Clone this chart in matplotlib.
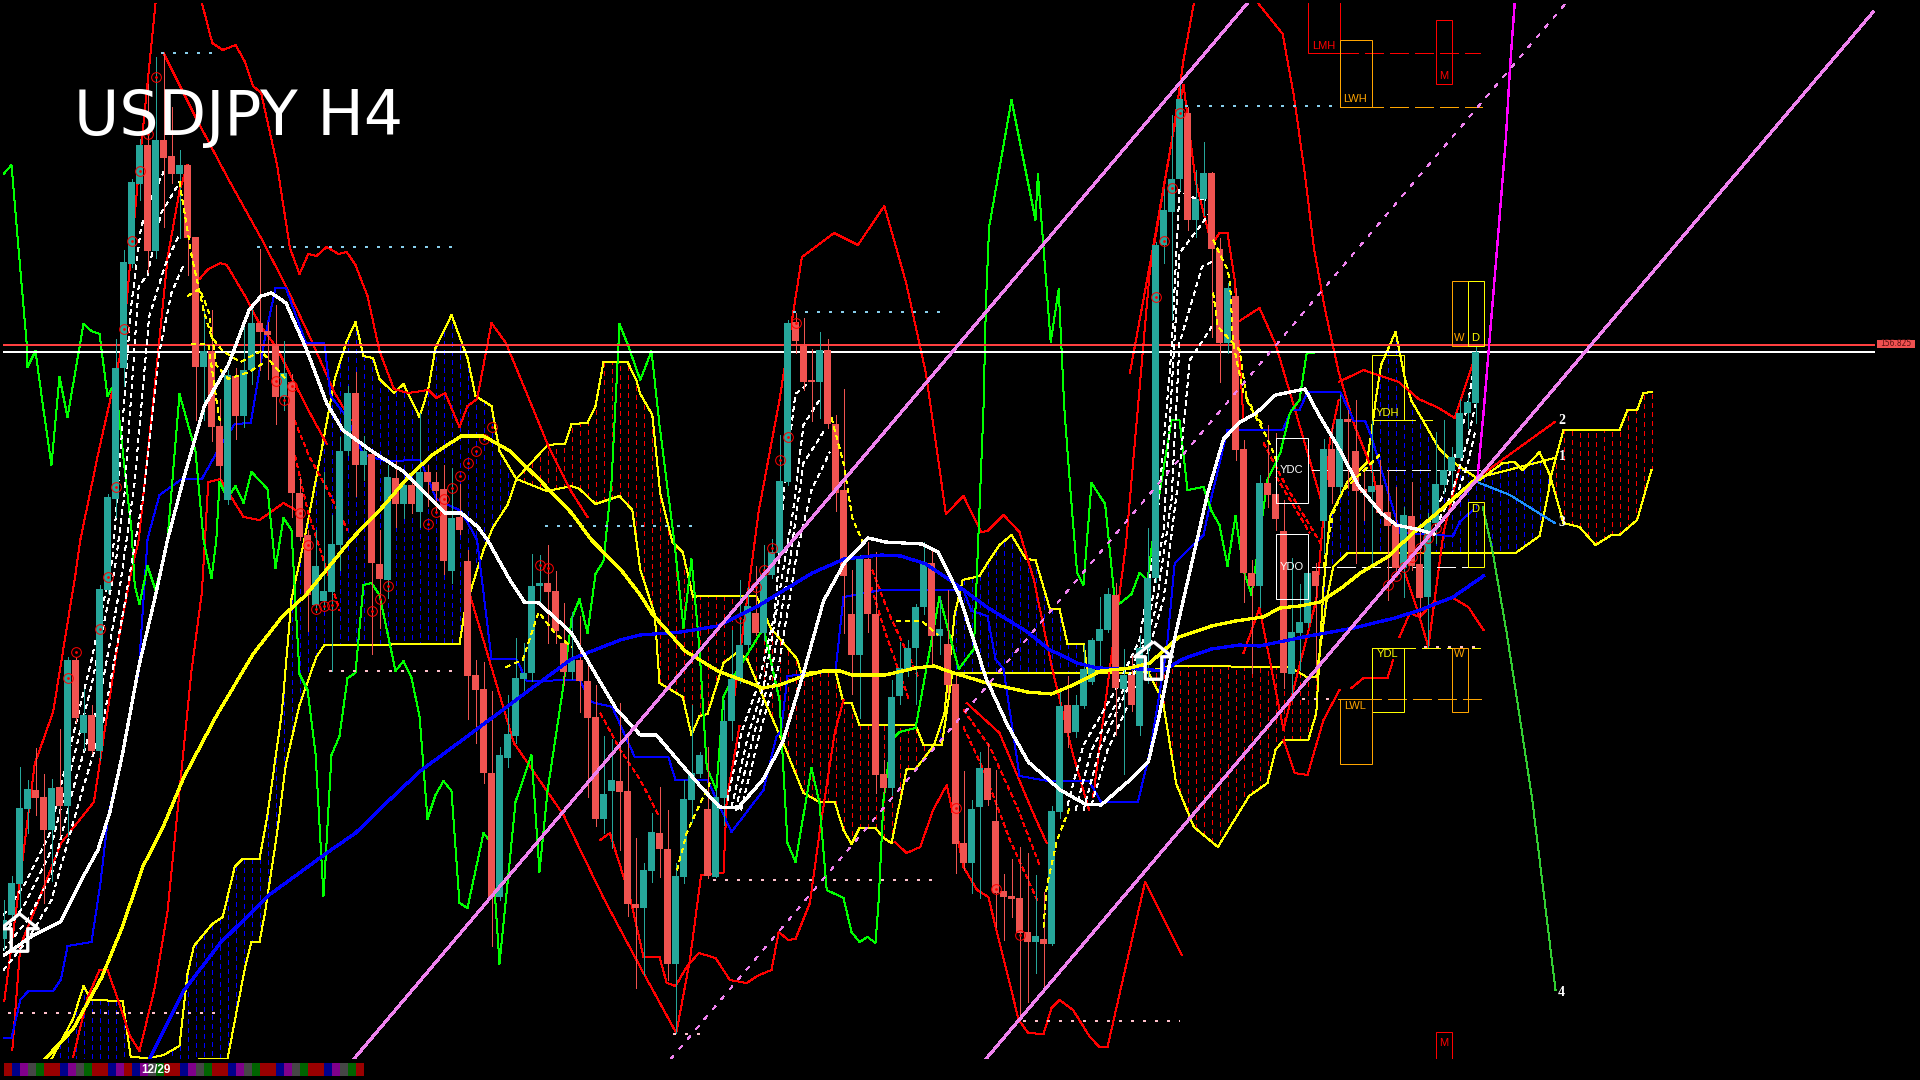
import numpy as np
import matplotlib
matplotlib.use("Agg")
import matplotlib.pyplot as plt
from matplotlib.path import Path
from matplotlib.patches import Rectangle

plt.rcParams["lines.scale_dashes"] = False
plt.rcParams["lines.antialiased"] = False

# every level below is a chart row, bars count from the left edge
candle_dir = ("TTTTRRTRTR" "TRTTTTTTRT" "RRTRRTRRTR" "TTRRRTRRRT" "TTTTRTRRTR"
              "TRTRRRTRRR" "RRTTTTTTRR" "RTRRRTTRRR" "TTRRTTTTRT" "TTTTRTTTTR"
              "RRTRRRRTRR" "RTTTTTRTRR" "RTTRRRRRRT" "RTTRTTTTTR" "TRTTTTTTRT"
              "TRRTRRRTRR" "RTTTRTRTRR" "RTRRRTRRTT" "TTTTT")
body_top = [920, 883, 808, 789, 790, 797, 788, 787, 660, 660,
            715, 715, 589, 497, 368, 262, 182, 145, 145, 140,
            140, 156, 165, 165, 237, 351, 351, 426, 375, 376,
            370, 323, 323, 331, 346, 373, 382, 493, 535, 566,
            591, 544, 451, 393, 393, 451, 454, 564, 477, 478,
            485, 485, 472, 472, 482, 489, 518, 517, 561, 675,
            689, 773, 755, 734, 678, 673, 586, 583, 583, 591,
            643, 660, 660, 681, 717, 794, 780, 781, 791, 904,
            870, 832, 833, 849, 876, 799, 773, 755, 809, 797,
            721, 679, 645, 606, 613, 574, 552, 481, 323, 322,
            346, 380, 350, 350, 424, 490, 614, 558, 559, 614,
            774, 697, 668, 648, 607, 563, 563, 629, 644, 684,
            843, 809, 768, 768, 821, 891, 896, 898, 932, 936,
            939, 811, 706, 705, 705, 669, 640, 629, 594, 595,
            675, 675, 648, 578, 245, 210, 179, 99, 113, 199,
            173, 173, 249, 288, 296, 449, 573, 483, 483, 494,
            531, 632, 622, 573, 571, 449, 449, 419, 419, 451,
            489, 486, 485, 512, 525, 515, 516, 564, 522, 484,
            470, 457, 413, 402, 352]
body_bottom = [939, 915, 884, 809, 798, 830, 830, 806, 806, 718,
               733, 751, 751, 590, 499, 368, 264, 184, 251, 251,
               158, 174, 174, 238, 367, 367, 427, 466, 500, 416,
               416, 370, 332, 335, 397, 397, 493, 537, 595, 605,
               601, 592, 545, 451, 465, 465, 563, 579, 580, 504,
               504, 504, 512, 482, 491, 561, 571, 530, 676, 690,
               773, 897, 897, 758, 736, 679, 673, 586, 592, 631,
               672, 672, 681, 718, 819, 819, 791, 792, 904, 908,
               908, 871, 849, 964, 964, 877, 800, 774, 876, 877,
               798, 721, 680, 645, 633, 633, 575, 553, 482, 341,
               382, 382, 382, 424, 493, 576, 655, 655, 614, 775,
               788, 788, 696, 669, 648, 607, 636, 636, 685, 844,
               863, 863, 807, 800, 893, 897, 899, 933, 942, 942,
               944, 944, 812, 733, 732, 706, 682, 641, 630, 688,
               689, 705, 726, 649, 578, 245, 212, 179, 220, 220,
               199, 249, 343, 343, 450, 573, 586, 586, 495, 519,
               673, 674, 633, 623, 586, 521, 487, 487, 422, 491,
               493, 492, 513, 526, 568, 568, 566, 598, 597, 523,
               485, 471, 458, 413, 403]
wick_top = [900, 876, 767, 780, 748, 774, 779, 729, 657, 657,
            689, 705, 585, 494, 339, 250, 179, 139, 84, 57,
            53, 107, 150, 164, 237, 310, 310, 399, 370, 368,
            318, 303, 249, 322, 305, 341, 374, 477, 530, 530,
            472, 515, 437, 386, 372, 436, 451, 530, 465, 461,
            482, 479, 413, 465, 472, 465, 468, 484, 550, 660,
            662, 691, 747, 695, 638, 643, 554, 555, 545, 571,
            603, 612, 616, 659, 685, 736, 739, 703, 737, 838,
            863, 813, 787, 810, 863, 780, 705, 752, 747, 790,
            700, 630, 580, 587, 566, 545, 539, 435, 320, 313,
            318, 349, 332, 339, 415, 389, 570, 555, 542, 552,
            760, 680, 642, 640, 604, 542, 549, 597, 590, 676,
            771, 800, 752, 743, 770, 874, 859, 847, 853, 875,
            892, 806, 690, 676, 695, 645, 638, 597, 588, 583,
            649, 656, 635, 528, 242, 189, 115, 83, 107, 170,
            142, 172, 238, 283, 288, 440, 560, 475, 425, 433,
            500, 558, 584, 563, 563, 439, 425, 395, 410, 400,
            470, 420, 460, 470, 487, 507, 482, 532, 513, 432,
            420, 447, 399, 395, 347]
wick_bottom = [950, 919, 908, 833, 815, 903, 881, 836, 836, 722,
               750, 753, 760, 593, 517, 386, 267, 200, 272, 258,
               227, 183, 238, 275, 420, 420, 441, 480, 504, 439,
               427, 384, 370, 379, 424, 410, 517, 540, 631, 612,
               609, 671, 570, 455, 496, 480, 654, 628, 598, 527,
               518, 513, 527, 506, 510, 574, 583, 534, 719, 743,
               783, 946, 900, 767, 743, 692, 681, 605, 643, 643,
               685, 679, 712, 797, 826, 833, 848, 850, 916, 988,
               975, 882, 877, 980, 1033, 883, 822, 777, 878, 877,
               825, 740, 683, 649, 635, 640, 578, 556, 485, 353,
               390, 421, 418, 428, 511, 633, 694, 718, 632, 793,
               793, 795, 704, 676, 704, 614, 666, 654, 694, 873,
               870, 893, 898, 805, 927, 940, 917, 1020, 1002, 973,
               988, 945, 818, 747, 737, 708, 684, 666, 632, 735,
               774, 711, 735, 683, 582, 263, 320, 190, 230, 237,
               215, 337, 382, 353, 460, 602, 673, 607, 507, 530,
               688, 700, 670, 627, 673, 553, 503, 498, 488, 563,
               520, 563, 515, 600, 573, 597, 570, 617, 647, 543,
               493, 488, 460, 428, 423]

white_ma = [(0.1, 955), (3.6, 936), (7.1, 922), (9.8, 879), (11.8, 850), (13.3, 812), (14.9, 753),
            (16.9, 667), (18.9, 599), (20.5, 540), (22.5, 479), (25.1, 406), (28.1, 365), (30.7, 310),
            (32.2, 296), (33.5, 293), (35.3, 303), (37.8, 348), (40.4, 403), (42.4, 430), (46, 451),
            (50.1, 472), (53.1, 496), (55.2, 513), (57.2, 513), (59.3, 527), (60.5, 540), (63.3, 580),
            (65.1, 602), (66.9, 603), (71, 633), (74, 674), (76.6, 709), (79.6, 735), (81.6, 735),
            (84.7, 764), (87.2, 787), (89.5, 807), (91.8, 808), (94.9, 780), (97.4, 742), (100, 673),
            (102.5, 601), (105.1, 563), (108.1, 538), (110.2, 542), (114.8, 544), (116.8, 552),
            (119.4, 594), (122.9, 680), (125.5, 725), (128.1, 762), (132.1, 790), (135.2, 804),
            (137.2, 805), (140.8, 780), (143.1, 762), (144.4, 718), (146.4, 638), (150.5, 494),
            (152.5, 439), (154.6, 422), (156.6, 413), (159, 395), (162.7, 389), (164.3, 413),
            (166.9, 448), (169.4, 486), (172.2, 513), (174.1, 525), (176.6, 529), (178.8, 534)]
yellow_ma = [(5.2, 1059), (8.7, 1029), (12.3, 977), (14.9, 926), (17.4, 867), (20, 826), (22.5, 778),
             (26.6, 716), (31.2, 654), (34.8, 617), (37.8, 595), (43.4, 540), (47.5, 506), (50.6, 477),
             (53.6, 455), (57.2, 436), (60, 436), (63.3, 451), (66.9, 479), (71, 513), (73.5, 540),
             (77.1, 569), (79.6, 595), (81.1, 614), (83.1, 632), (85.2, 651), (89.3, 671), (94.9, 688),
             (97, 685), (100, 676), (102.5, 671), (104.6, 671), (106.1, 675), (110.2, 675), (114, 668),
             (116.3, 666), (118.8, 673), (122.9, 683), (128, 692), (131, 694), (133.7, 685),
             (137.2, 671), (140.8, 668), (143.3, 663), (146.9, 637), (151, 626), (154, 621),
             (157.4, 617), (159.6, 608), (162, 606), (164.6, 602), (167.4, 587), (169.6, 573),
             (173, 557), (176.2, 533), (179.2, 513), (184.2, 478)]
blue_ma = [(18.2, 1060), (22.5, 991), (27.1, 943), (33.2, 895), (40.4, 853), (44, 833), (48.5, 798),
           (52.1, 771), (59.2, 729), (65.4, 692), (71, 659), (77.1, 640), (79.6, 635), (84.7, 632),
           (89.3, 626), (94.1, 607), (101.1, 573), (105.1, 559), (109.7, 555), (112.2, 556),
           (115.3, 564), (118.3, 580), (122.9, 607), (128, 632), (130.6, 649), (134.2, 663),
           (136.7, 668), (142.3, 669), (144.9, 671), (147.4, 659), (151, 649), (154.5, 645),
           (157, 646), (162.5, 637), (168.8, 628), (173.9, 618), (177.1, 610), (181.2, 597), (185, 576)]

kijun_blue = [(0, 1038), (1, 1038), (2.1, 1000), (3.1, 991), (6.2, 991), (7.2, 979), (8, 946), (11, 942),
              (12.1, 884), (13.1, 815), (14.9, 753), (16.9, 671), (18, 540), (18.4, 527), (19.5, 495),
              (22.3, 479), (24.8, 479), (27.1, 446), (28.9, 424), (30.9, 423), (32.7, 337), (34, 288),
              (35.3, 288), (37.8, 343), (40.1, 343), (40.9, 396), (42.9, 417), (45, 455), (47.8, 461),
              (52.1, 460), (54.1, 499), (57.2, 511), (59.2, 540), (61, 659), (64.1, 659), (65.4, 681),
              (72, 680), (73.5, 702), (76.1, 707), (78.9, 757), (83.1, 757), (84, 780), (88, 780),
              (91, 832), (95, 790), (96.6, 737), (97.2, 731), (98, 676), (104, 671), (105, 597),
              (109.7, 590), (120, 590), (121, 611), (123, 616), (124, 659), (125, 669), (127, 776),
              (130.6, 781), (135.7, 781), (137.2, 802), (141.8, 802), (143.3, 752), (145.4, 649),
              (146.4, 563), (150, 535), (151, 497), (153, 430), (159.9, 430), (161, 410), (162, 410),
              (163, 392), (167.1, 392), (168.8, 421), (170.2, 421), (171, 437), (172.7, 482),
              (174.6, 533), (181.2, 536), (182, 522), (183.7, 510)]

chikou_green = [(0, 174), (1, 165), (1.8, 241), (2.9, 344), (3, 367), (4, 351), (5, 410), (6, 465), (7, 377),
                (8, 417), (10, 324), (11, 331), (12, 334), (13, 396), (14, 382), (15, 458), (16, 530),
                (16.4, 585), (17, 604), (18, 566), (19, 590), (20.5, 540), (22, 394), (24, 451), (25, 540),
                (26, 578), (26.6, 540), (27, 482), (28, 498), (29, 486), (30, 503), (31, 472), (33, 489),
                (34, 568), (35, 518), (36, 530), (37, 674), (38, 690), (39, 753), (40, 896), (41, 755),
                (42, 736), (43, 678), (44, 673), (45, 585), (46, 583), (47, 595), (49, 671), (50, 661),
                (51, 678), (52, 716), (53, 819), (54, 795), (55, 781), (56, 791), (57, 903), (58, 908),
                (60, 833), (61, 843), (62, 964), (63, 884), (64, 802), (66, 755), (67, 872), (68, 791),
                (70, 685), (71, 619), (72, 599), (73, 633), (74, 574), (75, 561), (76, 482), (77, 324),
                (78, 344), (79.6, 380), (81, 351), (82, 425), (83.9, 545), (85, 628), (86, 559), (87, 649),
                (87.9, 767), (89.1, 790), (90, 697), (91, 680), (95, 628), (97, 700), (98, 843), (99, 862),
                (101, 768), (102, 803), (102.9, 890), (105, 898), (106, 932), (107, 942), (108, 937),
                (109, 943), (109.4, 900), (110, 800), (111, 740), (112, 732), (114, 728), (117, 597),
                (119.4, 669), (121.3, 649), (122.5, 408), (122.8, 304), (123.2, 227), (126, 100),
                (129, 220), (129.3, 174), (130.9, 342), (131.9, 289), (132.6, 408), (133.4, 494),
                (134.2, 573), (135, 585), (136, 483), (137.7, 504), (139, 607), (141, 594), (142, 573),
                (143, 580), (144, 518), (146, 420), (147, 420), (148, 490), (150, 487), (151, 511),
                (152, 525), (153, 566), (154, 516), (155, 570), (156, 595), (158, 480), (159.6, 453),
                (160.8, 413), (162, 400), (162.9, 353), (163.8, 353)]
forecast_green = [(184.9, 507), (186.1, 550), (187.9, 633), (189.2, 700), (191.1, 800), (194, 990)]
magenta_curve = [(184.2, 482), (185, 413), (185.6, 355), (186.7, 248), (187.8, 138), (188.3, 69), (188.9, 3)]

span_one = [(6, 1059), (8.7, 1019), (10, 986), (11, 1000), (14.9, 1001), (15.9, 1057), (18.2, 1058), (20, 1055),
            (22, 1046), (23, 974), (23.8, 946), (26.1, 924), (27.4, 917), (28.9, 867), (29.9, 859), (32, 859),
            (33, 815), (34.8, 712), (36, 599), (37.6, 540), (39.9, 444), (41.4, 379), (42.9, 341), (44, 322),
            (45, 356), (46.2, 358), (47, 379), (48.8, 393), (50, 384), (52, 417), (53.1, 389), (54, 348),
            (56, 315), (58, 358), (59, 396), (61, 406), (62, 451), (64.1, 479), (67.9, 491), (71, 486),
            (72, 489), (74, 504), (77, 496), (78.6, 510), (79.6, 570), (81.4, 614), (82, 683), (84.9, 697),
            (86, 735), (87, 716), (88, 714), (90, 663), (91.8, 652), (93, 660), (95.1, 700), (97.4, 742),
            (100, 793), (102, 802), (103.9, 802), (105, 830), (106, 844), (107, 828), (109, 828), (110, 838),
            (111, 843), (112.9, 769), (114, 769), (115.2, 757), (116.3, 745), (117.6, 714), (118.9, 614),
            (119.9, 580), (122, 576), (123, 563), (124.5, 545), (126, 535), (127.8, 559), (129, 560),
            (130.8, 609), (132, 609), (133, 644), (135, 644), (135.5, 672), (142.8, 668), (144.9, 700),
            (146.6, 784), (148.8, 827), (151.8, 847), (155.7, 796), (158, 783), (159, 750), (160, 740),
            (163.1, 740), (164.1, 713), (165, 587), (165.8, 517), (167.9, 483), (170.4, 463), (171, 432),
            (171.6, 396), (172.2, 365), (174, 332), (175.2, 379), (176, 401), (177.4, 420), (179.4, 448),
            (181, 461), (184.5, 480), (187.4, 463), (188.9, 462), (189.9, 470), (192, 452), (193.3, 475),
            (195, 523), (197, 527), (199, 545), (201, 535), (202, 535), (204.2, 520), (206, 470)]
span_two = [(6, 1062), (28, 1059), (30.2, 967), (31, 942), (32, 942), (32.7, 912), (34.2, 833), (35.3, 764),
            (37, 705), (39.1, 657), (40.1, 645), (57, 644), (57.7, 609), (59, 575), (60, 550), (61.2, 527),
            (63, 505), (64.1, 479), (67.9, 446), (69, 444), (70.2, 444), (71, 424), (73, 423), (74, 406),
            (75, 362), (78, 362), (79.1, 380), (79.6, 394), (81.1, 415), (82.1, 494), (83.6, 542), (84.9, 552),
            (86.2, 597), (87, 596), (94.1, 596), (95.9, 628), (99.2, 659), (99.7, 673), (104, 671), (105, 703),
            (106, 703), (107, 725), (114, 725), (115, 745), (117.3, 745), (118.6, 673), (135.2, 673), (142, 673),
            (146, 666), (160.8, 667), (162.9, 677), (164.1, 677), (165.4, 600), (166.2, 567), (168, 553),
            (189, 553), (192, 536), (193.1, 493), (193.4, 477), (195, 430), (202, 430), (203, 410), (204.2, 410),
            (205, 393), (206, 392)]

red_upper_left = [(0.1, 1001), (2, 884), (3.9, 764), (6.2, 712), (9, 574), (9.6, 540), (11.8, 455), (14.9, 344),
                  (16.9, 172), (19, 3)]
red_decline = [(20, 53), (24, 117), (28.1, 179), (32.2, 238), (35.3, 286), (38.3, 337), (41.4, 393), (43.4, 420)]
red_ridge = [(24.8, 3), (26.1, 43), (27.4, 50), (29, 45), (30.2, 62), (31.2, 86), (32.2, 93), (34.2, 165),
             (35.8, 248), (37, 274), (38.1, 254), (39.1, 256), (40.4, 247), (41.9, 254), (42.9, 252), (44, 265),
             (45.5, 296), (47, 351), (48.8, 389), (50.6, 393), (53.1, 390), (54.1, 398), (55.2, 393), (57, 427),
             (58, 406), (59.2, 399), (61, 323), (62.8, 343), (65.9, 403), (68.2, 448), (71, 492), (73, 517)]
red_low_left = [(8.7, 1057), (10.5, 998), (12, 970), (13, 970), (14.1, 995), (15.8, 1036), (17, 1051), (18.9, 988),
                (20.5, 912), (22, 791), (23.5, 671), (24.8, 592), (25.6, 482), (27.1, 479), (30, 517), (32, 520),
                (35, 503), (36.5, 510)]
red_rise_left = [(1.1, 1050), (2.1, 946), (5, 888), (7.2, 843), (11.3, 802), (14.3, 643), (15.9, 574), (16.9, 540),
                 (19, 379), (20.5, 258), (22, 191), (23, 165)]
red_tenkan = [(24.5, 279), (25.6, 269), (27.1, 263), (27.9, 265), (30.2, 296), (32.2, 327), (34.2, 348), (36.3, 382),
              (38.3, 413), (40.4, 444)]
red_lower_mid = [(58.2, 592), (63.8, 743), (70, 815), (75, 898), (80, 973), (84.1, 1033), (85.8, 960), (87.2, 875),
                 (90, 873), (90.4, 800), (92, 726)]
red_floor = [(74.6, 840), (75.8, 833), (78.3, 897), (80, 957), (82, 957), (82.9, 983), (84, 986), (85.4, 967),
             (86.9, 953), (89, 958), (90.8, 980), (92.9, 983), (94.2, 976), (96, 970), (96.9, 932), (98.1, 940),
             (99, 939), (100.8, 903), (102.1, 827), (103.9, 733), (105, 700)]
red_floor_two = [(111.4, 842), (112.9, 853), (114.6, 847), (116.2, 810), (117.9, 785), (118.5, 807), (120, 867),
                 (121.7, 890), (123.1, 897), (126.9, 1020), (128.1, 1033), (130, 1034), (131, 1008), (132, 1000),
                 (133.7, 1010), (135.8, 1037), (137, 1047), (138, 1047), (142.7, 882), (147.3, 955)]
red_mountain = [(91.3, 700), (94.4, 511), (97, 400), (99.8, 257), (103.8, 233), (106.8, 245), (110.1, 206),
                (112.8, 282), (115.3, 373), (117.8, 514), (120, 496), (122.2, 532), (123, 531), (125, 515),
                (127, 532), (128.8, 580), (131.1, 669), (133.6, 752), (135.7, 810)]
red_peak = [(136.2, 797), (140.3, 545), (143.3, 270), (146.2, 133), (147.5, 60), (148.8, 3)]
red_peak_side = [(140.8, 373), (143.7, 247), (146.2, 133), (147.5, 85), (149, 180), (151, 245), (152, 233),
                 (153, 233), (153.9, 280), (155, 420)]
red_top_right = [(156.8, 3), (159.9, 34), (161.3, 96), (162.7, 176), (163.8, 248), (165.2, 310), (166.9, 372),
                 (168.8, 424), (171, 468), (172.2, 510)]
red_arch_right = [(154.3, 322), (157, 308), (159, 344), (161.3, 406), (163.2, 458), (164.9, 506)]
red_ledge = [(166.9, 382), (170, 370), (174.4, 382), (176.9, 399), (179.4, 408), (181.4, 418), (183.6, 365)]
red_low_right = [(155, 653), (157, 608), (160, 730), (161, 697), (164.1, 600), (165.8, 440), (166.9, 400)]
red_base_left = [(160, 740), (161.4, 773), (163, 775), (165, 720), (167, 690)]
red_base_right = [(168.5, 688), (170, 678), (173, 678), (173.7, 660)]
red_tail = [(174.5, 637), (175.8, 613), (177, 617), (178.7, 603), (181.2, 598), (183.1, 607), (185, 630)]
red_vee = [(175.2, 573), (177, 617), (178.1, 647), (180, 533), (182, 467)]
red_fall = [(120.4, 703), (124.5, 733), (128.7, 813), (130.4, 843)]
red_forecast = [(184.2, 478), (193.9, 422)]
yellow_forecast = [(184.2, 478), (193.9, 458)]
blue_forecast = [(184.2, 482), (188.3, 495), (193.9, 523)]

white_ribbon_a = [(0, 915), (2.6, 885), (5.7, 835), (8.7, 735), (11, 660), (13.6, 560), (14.3, 489), (15.9, 310),
                  (17.2, 227), (18.4, 200), (20, 172), (22, 172)]
white_ribbon_b = [(0, 935), (2.6, 905), (5.7, 855), (8.7, 760), (11, 685), (13.9, 570), (15.1, 496), (16.9, 286),
                  (18, 275), (19.7, 213), (21, 196), (22, 182)]
white_ribbon_c = [(0, 950), (3, 920), (6, 875), (9, 780), (12, 700), (14.5, 590), (16.4, 482), (18.2, 317),
                  (20.2, 265), (22, 234)]
white_ribbon_d = [(0, 970), (3, 940), (6, 900), (9.5, 800), (12.5, 720), (15, 610), (17.4, 499), (19.5, 351),
                  (21, 293), (22.5, 265)]
white_ribbon_e = [(90.5, 800), (92.3, 731), (94.4, 683), (96.4, 614), (97.7, 477), (99, 394), (100.5, 384)]
white_ribbon_f = [(91, 807), (93.1, 735), (95.1, 683), (96.9, 597), (98.7, 511), (100, 425), (102, 400)]
white_ribbon_g = [(91.5, 810), (93.9, 731), (95.9, 676), (98.2, 566), (100, 463), (102.5, 432)]
white_ribbon_h = [(92.2, 810), (94.6, 731), (96.9, 666), (99.2, 552), (101, 490), (103.3, 452)]
white_ribbon_i = [(133, 805), (135, 745), (139, 690), (142, 640), (144, 540), (146, 350), (147, 190), (148.3, 197),
                  (150.6, 200)]
white_ribbon_j = [(134, 810), (136, 750), (140, 690), (143, 630), (145, 530), (147, 253), (149.5, 227), (151, 210)]
white_ribbon_k = [(135, 810), (137, 750), (141, 680), (144, 610), (146, 500), (147, 343), (149.8, 267), (151, 262)]
white_ribbon_l = [(136, 805), (138, 750), (142, 680), (145, 600), (147, 470), (148.3, 360), (151, 327)]
white_ribbon_m = [(178, 525), (180, 495), (182, 440), (183, 405), (184, 360)]
white_ribbon_n = [(179, 527), (181, 495), (183, 440), (184, 405)]
white_ribbon_o = [(178.5, 535), (181, 510), (183, 465), (184, 430)]

yellow_dash_a = [(22, 182), (23.5, 255), (25, 310), (26, 337), (27.4, 351), (29.6, 362), (32.2, 351), (35.3, 379)]
yellow_dash_b = [(23, 296), (24.5, 289), (25.6, 310), (26.6, 365), (28.1, 379), (30.7, 372), (32.7, 362)]
yellow_dash_c = [(23.5, 344), (25.6, 344), (26.6, 399), (27.1, 424)]
yellow_dash_d = [(62.8, 667), (64.9, 660), (66.9, 612), (68.9, 633), (71, 647)]
yellow_dash_e = [(84.2, 870), (85.4, 833), (87.1, 803), (88.3, 783)]
yellow_dash_f = [(103.5, 418), (105, 463), (106.1, 518), (107.6, 545)]
yellow_dash_g = [(111.6, 621), (114.8, 621), (116.8, 635)]
yellow_dash_h = [(151.2, 240), (152.9, 268), (153.3, 280), (153.7, 343), (155, 393), (157.5, 427)]
yellow_dash_i = [(151.2, 293), (151.8, 327), (154.5, 350), (155.4, 400), (157.9, 437), (159.1, 460)]
yellow_dash_j = [(165, 567), (166.2, 513), (167.5, 490), (170.4, 468), (172, 455)]
yellow_dash_k = [(130, 927), (130.4, 887), (131.7, 840), (133.3, 807)]

red_dash_a = [(36, 413), (38.3, 458), (40, 482), (43, 530)]
red_dash_b = [(36, 440), (38, 510), (40, 560), (42, 610)]
red_dash_c = [(74.6, 713), (77.1, 750), (79.6, 780), (82, 817)]
red_dash_d = [(120, 710), (123.3, 747), (126.7, 807), (129.6, 867)]
red_dash_e = [(120, 727), (122.5, 770), (125.8, 840), (129.2, 900)]
red_dash_f = [(108.6, 570), (110.7, 614), (114.3, 676)]
red_dash_g = [(108.2, 580), (110.2, 632), (113.2, 700)]
red_dash_h = [(157.5, 443), (160.4, 487), (164.6, 543)]
red_dash_i = [(159.1, 477), (163.3, 533)]

signal_circles = [(9, 652), (8, 678), (12, 629), (13, 577), (39, 609), (40, 606), (41, 605), (46, 611), (47, 599),
                  (48, 586), (67, 565), (68, 568), (38, 545), (19, 77), (18, 134), (17, 171), (16, 241), (15, 329),
                  (14, 487), (61, 427), (60, 439), (59, 451), (58, 463), (57, 476), (56, 488), (55, 499), (54, 512),
                  (53, 524), (34, 381), (35, 400), (36, 386), (37, 513), (99, 323), (98, 437), (97, 460), (96, 548),
                  (95, 570), (94, 587), (92, 618), (144, 297), (119, 808), (124, 889), (127, 935), (146, 188),
                  (147, 113), (145, 241), (173, 585), (174, 576), (175, 567), (176, 557), (177, 548), (178, 538),
                  (179, 528)]

channel_left = [(43.8, 1059), (155.4, 4)]
channel_right = [(122.8, 1059), (233.7, 12)]
channel_mid = [(83.4, 1059), (195.2, 4)]
price_levels = [345, 352]
dotted_blue = [(19.7, 27, 53), (31.7, 57, 247), (67.7, 87, 526), (98.7, 117, 312), (147.7, 167, 106)]
dotted_pink = [(0.6, 27, 1013), (40.7, 57, 671), (88.7, 117, 880), (83.7, 87, 1034), (127.4, 147, 1021),
               (160.8, 166.8, 699), (177.5, 184.5, 647)]
pivot_levels = [(167, 184.5, 53, "red"), (167, 184.8, 107, "orange"), (171, 178.5, 420, "yellow"),
                (163.5, 184.5, 470, "white"), (163.5, 184.5, 567, "white"), (171, 184.5, 648, "yellow"),
                (166.8, 184.8, 699, "orange")]
# name, left bar, right bar, top row, bottom row, colour, row of the label
pivot_boxes = [("LMH", 163, 167, -10, 53, "red", 46), ("M", 179, 181, 20, 84, "red", 76),
               ("LWH", 167, 171, 40, 107, "orange", 99), ("W", 181, 183, 281, 346, "orange", 338),
               ("D", 183, 185, 281, 346, "yellow", 338), ("YDH", 171, 175, 355, 420, "yellow", 413),
               ("YDC", 159, 163, 438, 503, "white", 470), ("YDO", 159, 163, 534, 599, "white", 567),
               ("D", 183, 185, 502, 567, "yellow", 509), ("YDL", 171, 175, 648, 712, "yellow", 654),
               ("W", 181, 183, 648, 712, "orange", 654), ("LWL", 167, 171, 699, 764, "orange", 706),
               ("M", 179, 181, 1032, 1075, "red", 1043)]
forecast_labels = [("2", 194.8, 421), ("1", 194.8, 457), ("3", 194.8, 523), ("4", 194.7, 993)]
arrow_marks = [(1.9, 932), (143.7, 660)]
strip_cells = "RBPGVRRBPGVRRBPRBPGVRRBPGVRRBPGVRRBPGVRRBPGVR"
strip_colors = {"R": "#9A0000", "B": "#00008B", "P": "#80008B", "G": "#464646", "V": "#006400"}

TEAL = "#26A69A"
CORAL = "#EF5350"
THIN = 0.72


def split(points):
    return [p[0] for p in points], [p[1] for p in points]


def draw(ax, points, color, lw=THIN, ls="-", zorder=2):
    xs, ys = split(points)
    ax.plot(xs, ys, color=color, lw=lw, ls=ls, zorder=zorder)


def draw_cloud(ax):
    x1, y1 = split(span_one)
    x2, y2 = split(span_two)
    for b in range(6, 207):
        a = np.interp(b, x1, y1)
        c = np.interp(b, x2, y2)
        if abs(a - c) < 8:
            continue
        color = "#0000FF" if a < c else "#FF0000"
        ax.plot([b, b], [a, c], color=color, lw=THIN, ls=(0, (3.5, 3.5)), zorder=1)
    draw(ax, span_one, "#FFFF00")
    draw(ax, span_two, "#FFFF00")


def draw_candles(ax):
    colors = [TEAL if d == "T" else CORAL for d in candle_dir]
    bars = np.arange(len(candle_dir))
    ax.vlines(bars, wick_top, wick_bottom, colors=colors, lw=THIN, zorder=3, antialiased=False)
    heights = np.array(body_bottom) - np.array(body_top)
    ax.bar(bars, heights, bottom=body_top, width=0.78, color=colors, lw=0, zorder=3, antialiased=False)


def draw_pivots(ax):
    for x0, x1, y, color in pivot_levels:
        ax.plot([x0, x1], [y, y], color=color, lw=0.8, ls=(0, (13, 5)), zorder=2)
    for name, x0, x1, y0, y1, color, label_y in pivot_boxes:
        ax.add_patch(Rectangle((x0, y0), x1 - x0, y1 - y0, fill=False, ec=color, lw=THIN, zorder=4))
        ax.text((x0 + x1) / 2, label_y, name, color=color, fontsize=8, ha="center", va="center",
                family="Liberation Sans", zorder=6)


def main():
    fig = plt.figure(figsize=(19.2, 10.8), dpi=100, facecolor="black")
    ax = fig.add_axes([0, 0, 1, 1], facecolor="black")
    ax.set_xlim(-0.4375, 239.5625)
    ax.set_ylim(1080, 0)
    ax.axis("off")

    draw_cloud(ax)

    for line in (red_upper_left, red_decline, red_ridge, red_low_left, red_rise_left, red_tenkan, red_lower_mid,
                 red_floor, red_floor_two, red_mountain, red_peak, red_peak_side, red_top_right, red_arch_right,
                 red_ledge, red_low_right, red_base_left, red_base_right, red_tail, red_vee, red_fall, red_forecast):
        draw(ax, line, "#FF0000")
    for line in (red_dash_a, red_dash_b, red_dash_c, red_dash_d, red_dash_e, red_dash_f, red_dash_g,
                 red_dash_h, red_dash_i):
        draw(ax, line, "#FF0000", ls=(0, (3, 2.5)))
    draw(ax, kijun_blue, "#0000FF")
    draw(ax, chikou_green, "#00FF00")
    draw(ax, forecast_green, "#32CD32")
    draw(ax, yellow_forecast, "#FFFF00")
    draw(ax, blue_forecast, "#1E90FF")

    for line in (white_ribbon_a, white_ribbon_b, white_ribbon_c, white_ribbon_d, white_ribbon_e, white_ribbon_f,
                 white_ribbon_g, white_ribbon_h, white_ribbon_i, white_ribbon_j, white_ribbon_k, white_ribbon_l,
                 white_ribbon_m, white_ribbon_n, white_ribbon_o):
        draw(ax, line, "white", ls=(0, (3, 3)), zorder=2.5)
    for line in (yellow_dash_a, yellow_dash_b, yellow_dash_c, yellow_dash_d, yellow_dash_e, yellow_dash_f,
                 yellow_dash_g, yellow_dash_h, yellow_dash_i, yellow_dash_j, yellow_dash_k):
        draw(ax, line, "#FFFF00", ls=(0, (3, 3)), zorder=3.5)

    draw_candles(ax)

    xs, ys = split(signal_circles)
    ax.plot(xs, ys, ls="none", marker="o", ms=7, mfc="none", mec="#FF0000", mew=THIN, zorder=4)
    ax.plot(xs, ys, ls="none", marker=".", ms=2, color="#FF0000", zorder=4)

    draw(ax, blue_ma, "#0000FF", lw=1.6, zorder=4)
    draw(ax, yellow_ma, "#FFFF00", lw=1.6, zorder=4)
    draw(ax, white_ma, "white", lw=1.6, zorder=4)
    draw(ax, magenta_curve, "#FF00FF", lw=1.0, zorder=4)

    draw(ax, channel_left, "#EE82EE", lw=1.5, zorder=5)
    draw(ax, channel_right, "#EE82EE", lw=1.5, zorder=5)
    draw(ax, channel_mid, "#EE82EE", lw=THIN, ls=(0, (3, 6)), zorder=5)

    for x0, x1, y in dotted_blue:
        ax.plot([x0, x1], [y, y], color="#87CEEB", lw=1.5, ls=(0, (2, 6.7)), zorder=2)
    for x0, x1, y in dotted_pink:
        ax.plot([x0, x1], [y, y], color="#FFC0CB", lw=1.5, ls=(0, (2, 6.7)), zorder=2)
    draw_pivots(ax)

    ax.plot([-0.06, 233.8], [price_levels[0]] * 2, color="#FF4040", lw=1.1, zorder=2)
    ax.plot([-0.06, 233.8], [price_levels[1]] * 2, color="white", lw=1.1, zorder=2)

    # white up arrows, drawn as one marker so both share a shape
    arrow = Path([(0, 0.5), (0.5, 0.1), (0.22, 0.1), (0.22, -0.5), (-0.22, -0.5), (-0.22, 0.1), (-0.5, 0.1), (0, 0.5)])
    xs, ys = split(arrow_marks)
    ax.plot(xs, ys, ls="none", marker=arrow, ms=27, mfc="none", mec="white", mew=2.4, zorder=6)

    # everything so far stops short of the chart frame
    frame = Rectangle((-0.06, 3), 239, 1056, transform=ax.transData)
    for artist in ax.lines + ax.collections + ax.patches:
        artist.set_clip_path(frame)

    ax.text(8.8, 118, "USDJPY H4", color="white", fontsize=44.5, va="center", ha="left", zorder=7)
    for label, x, y in forecast_labels:
        ax.text(x, y, label, color="white", fontsize=10, fontweight="bold", family="Liberation Serif",
                ha="center", va="center", zorder=7)

    for i, cell in enumerate(strip_cells):
        ax.add_patch(Rectangle((i, 1063), 1, 13, fc=strip_colors[cell], lw=0, zorder=7))
    ax.text(19, 1070, "12/29", color="white", fontsize=8.5, fontweight="bold", family="Liberation Sans",
            ha="center", va="center", zorder=8)

    ax.add_patch(Rectangle((234.2, 340), 4.75, 7.5, fc="#F05050", lw=0, zorder=7))
    ax.text(236.6, 343.8, "156.825", color="#5A1010", fontsize=5.5, ha="center", va="center", zorder=8)

    fig.savefig("out.png", dpi=100, facecolor="black")


if __name__ == "__main__":
    main()
